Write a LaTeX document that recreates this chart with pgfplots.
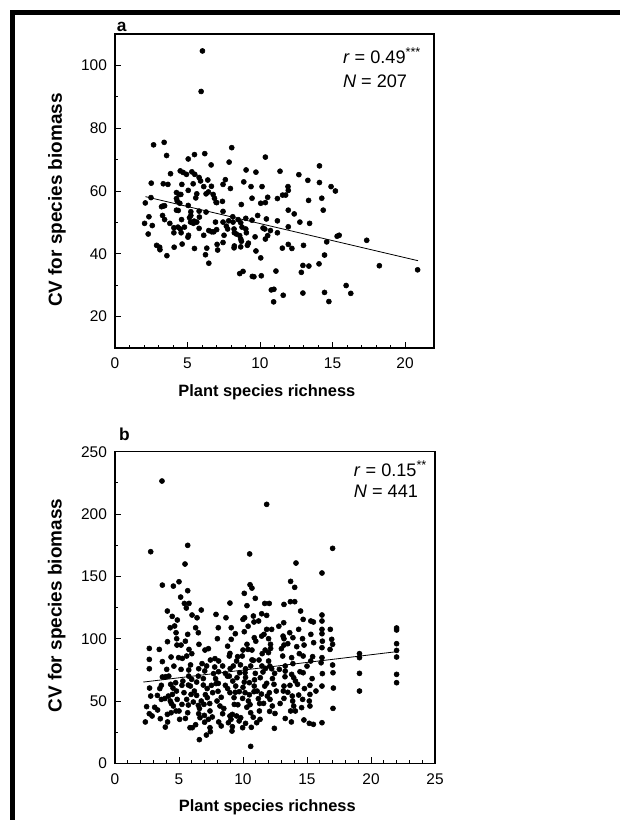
\documentclass[border=0pt]{standalone}
\usepackage{fontspec}
\setmainfont{Liberation Sans}
\usepackage{pgfplots}
\pgfplotsset{compat=1.18}

% panel a: 207 plots
\pgfplotstableread{
x y
6.03 104.6
5.94 91.7
2.66 74.7
3.39 75.5
3.56 71.3
5.48 71.6
6.19 71.9
5.05 70.2
8.05 73.8
10.37 70.8
7.87 69.2
6.63 68.3
14.1 68.0
3.83 65.5
4.50 66.4
4.70 65.9
4.93 65.3
5.30 66.1
5.50 65.3
9.04 66.7
9.72 66.0
11.38 66.3
12.68 65.2
2.50 62.5
3.33 62.3
3.65 62.1
4.61 62.1
5.39 62.3
5.80 64.3
5.90 63.2
6.40 63.5
6.12 61.4
7.61 63.6
7.45 62.1
8.88 62.9
9.38 61.4
10.14 61.4
11.93 61.4
11.95 60.2
13.3 63.4
14.1 62.7
14.9 61.4
15.2 60.0
5.05 60.2
5.64 59.1
6.28 59.1
6.44 59.7
6.65 61.5
6.77 58.9
4.24 59.5
4.43 58.9
4.54 58.9
7.96 60.8
9.45 57.7
11.2 57.6
11.56 58.7
11.77 58.7
10.53 58.0
2.09 56.2
2.48 57.9
4.24 57.6
4.29 56.8
4.47 56.1
5.57 57.8
6.86 57.7
6.97 56.4
7.41 56.7
7.01 56.3
13.35 57.0
14.26 57.7
10.05 56.1
10.37 56.3
8.71 55.7
5.05 55.4
3.30 55.2
3.42 55.3
3.21 55.0
4.24 53.9
4.36 53.8
5.23 53.4
5.80 53.6
6.28 53.3
7.45 53.5
14.36 53.9
11.95 53.9
12.36 52.7
2.34 51.8
3.28 52.2
3.42 50.9
4.59 50.9
5.14 51.5
5.23 52.2
5.82 51.7
8.12 51.8
9.02 51.3
8.49 50.9
9.84 52.2
10.44 51.1
5.21 50.1
5.46 50.4
5.64 50.1
5.41 49.7
2.04 49.7
2.57 49.0
3.78 49.7
6.93 50.1
7.45 50.1
7.84 50.5
8.14 50.1
8.67 49.9
9.45 50.7
11.2 50.5
12.75 50.1
13.42 49.7
4.79 48.5
4.06 48.3
4.34 48.5
4.50 47.9
5.80 48.1
7.01 47.7
7.68 48.8
7.77 47.9
8.21 47.9
8.76 48.5
9.02 47.9
10.21 48.2
10.33 47.9
10.72 47.4
11.95 48.6
2.29 46.3
5.07 45.9
5.03 45.3
4.56 46.7
4.06 46.7
6.12 45.9
6.47 47.4
6.67 47.0
6.81 47.0
8.23 46.7
8.37 46.3
7.52 45.9
9.06 46.7
8.60 45.8
9.66 45.4
10.53 45.8
10.37 44.7
11.2 46.7
15.32 45.6
15.46 45.9
8.67 44.7
8.72 44.0
14.6 43.8
2.87 42.7
3.08 42.1
4.08 42.1
7.04 43.0
4.63 43.1
7.45 43.6
8.21 41.9
8.23 42.5
9.13 42.7
9.20 43.4
8.67 42.2
11.95 43.0
12.2 41.7
13.0 42.7
11.54 41.8
17.36 44.3
3.10 41.3
5.48 41.7
6.33 41.8
7.08 41.2
6.24 39.7
9.72 40.9
3.58 39.4
6.47 37.0
10.05 38.7
14.45 39.6
20.87 34.9
18.23 36.2
12.96 36.3
13.37 36.1
14.07 36.8
8.60 33.7
8.83 34.4
9.47 32.8
9.58 32.7
10.09 33.0
11.1 34.5
12.85 34.1
10.78 28.5
10.96 28.7
11.6 26.8
12.96 27.5
14.45 27.7
14.75 24.8
10.94 24.7
15.94 29.9
16.26 27.4
}\dataA

% panel b: 441 plots
\pgfplotstableread{
x y
3.67 226.5
11.85 207.8
17.0 172.5
2.79 169.8
5.68 174.9
10.52 168
5.47 159.9
14.14 160.7
16.17 152.7
5.0 145.7
4.56 142.2
3.70 143
10.55 143.3
10.70 140.6
13.72 146
14.04 141.2
5.68 138.5
5.13 133.4
10.1 136.4
10.96 132.4
13.7 129.7
14.04 129.7
5.42 128.3
5.78 128.3
8.98 128.6
11.7 128.3
12.05 128.3
13.2 127.5
10.31 126.5
5.57 124.6
6.74 123
4.09 122.2
14.5 122.2
6.02 119
7.89 119.5
16.17 119
4.47 117.9
6.41 116.8
8.67 116.8
10.0 115.5
10.13 116.8
10.81 118.2
11.46 120
11.85 118.7
4.87 115
14.7 115.5
15.3 114.2
15.5 113.4
16.17 114.2
13.18 112.8
10.86 113.4
4.31 108.8
4.66 110.2
6.3 108.8
8.07 108.8
9.08 108.8
11.22 114.2
11.85 107.5
12.24 107.5
13.65 104.8
14.35 107.5
16.17 107.5
16.82 107.5
22.0 108.6
22.0 107
4.77 104.8
5.68 103.5
6.51 104.8
10.1 105.6
10.88 100.8
11.46 102.1
11.64 103.5
13.13 102.1
15.3 103.5
16.17 104
13.2 100
13.9 100.8
14.65 100
4.82 100
4.1 97.6
9.08 99.5
16.93 99.5
3.46 91.4
2.68 92.2
5.78 91.4
6.56 95.5
7.03 90.9
4.84 94.9
5.16 94.9
10.31 95.5
10.39 91.4
12.15 95.5
13.2 94.9
14.2 93.6
14.77 94.9
15.52 96.8
16.17 92.8
17.0 95.5
22.0 96
10.0 90.9
10.7 90.9
11.73 90.9
12.16 92.2
22.0 90.6
16.8 91.4
19.1 88
19.1 84.8
22.0 85.3
11.99 88.8
8.93 86.1
8.98 88.2
5.6 86.1
4.38 85.3
4.97 84.8
5.26 84.2
9.58 85.6
9.94 86.1
3.7 81.6
2.68 83.4
7.45 82.9
7.81 84
8.1 82.1
9.5 82.1
10.81 82.6
11.25 82.9
12.0 82.1
13.1 86.1
13.8 84.8
14.7 86.1
15.44 85.6
16.17 84.8
15.29 82.1
16.1 80.7
17.0 78.9
13.3 78.1
7.16 78.1
7.79 77.3
8.41 78.1
9.24 78.1
10.2 75.9
10.6 78.1
11.48 78.1
11.77 76.2
12.24 75.9
2.68 75.9
4.04 75.4
5.16 75.4
5.76 74.9
6.54 75.9
7.01 74.1
8.09 73.5
8.62 72.2
8.93 70
9.74 72.7
10.16 72.7
10.96 72.2
11.56 73.3
12.47 72.2
12.84 75.4
13.8 71.4
14.45 73.5
14.7 72.7
17.03 72.7
19.1 72.2
22.0 71.4
5.76 70
6.51 70
7.86 67.9
8.78 70
9.53 68.7
11.35 68.7
13.96 68.7
13.28 69.5
3.7 69.3
3.96 69.5
4.74 64.7
2.7 60.4
3.62 62.6
4.35 63.4
4.53 60.4
5.23 62.6
5.73 62.8
5.99 67.4
5.89 62
6.38 65.2
6.9 62.8
7.53 62.6
8.07 64.2
8.62 62.6
9.43 62
10.1 65.2
10.5 64.7
10.88 62
11.85 64.2
12.42 63.4
13.2 62
13.67 62.6
14.26 63.4
15.23 62.6
16.17 62
17.06 60.4
19.1 58
22.0 64.7
2.79 54
3.31 54.5
4.17 54
4.48 55.3
5.39 56.7
5.94 55.3
6.38 54.5
7.06 55.1
7.63 56.7
8.05 57.8
8.98 56.7
9.71 57.5
10.16 56.7
10.86 57.5
11.44 55.6
12.06 56.7
13.15 58
13.85 54
14.35 54.8
15.23 55.3
3.62 51.3
4.32 50
4.86 51.3
5.6 51.3
6.12 49.2
6.74 50
7.21 52.7
7.97 50
9.3 52.7
9.97 52.1
10.42 50
11.2 51.9
12.11 51.3
13.2 52.1
13.88 50
14.66 51.3
15.18 50
2.47 45.5
4.56 46
5.23 47.3
5.73 46.8
6.51 46.5
6.95 47.3
8.2 46
9.32 47.3
10.55 47.1
11.61 48.1
12.29 46
13.96 46
14.58 44.7
15.23 46
17.03 44.1
3.33 42.8
4.38 40.6
4.77 42
5.68 40.6
6.54 39.8
7.42 42
8.41 39.8
8.98 38
9.17 39.3
10.6 40.6
11.28 42
12.08 41.7
13.72 42
14.09 42
2.68 39.8
4.09 39.3
6.98 38.5
7.6 37.2
3.54 35.8
5.05 35.3
6.64 36.6
7.29 35.3
9.06 35.3
9.82 36.6
11.33 35.3
14.76 34.8
2.37 33.2
4.11 33.2
8.1 33.2
8.86 32.6
9.7 34
10.2 32.1
11.07 32.6
13.78 33.2
15.18 32.1
15.5 31.3
16.17 32.6
3.93 29.1
5.86 28.6
6.04 28.6
7.42 28.6
9.17 29.4
9.97 28.6
10.65 28.9
12.45 28.1
7.45 25.4
9.14 25.9
7.14 22.7
6.59 19
10.6 13.6
4.8 58
5.3 66
5.9 79
6.2 58
6.6 44
6.9 68
7.2 60
7.4 48
7.7 72
7.9 64
8.3 53
8.5 44
8.8 60
9.0 76
9.2 66
9.4 57
9.6 47
9.8 79
10.0 61
10.2 69
10.3 45
10.5 55
10.7 83
10.9 67
11.1 58
11.3 48
11.5 88
11.7 62
11.9 54
12.1 78
12.3 68
12.6 58
12.9 48
13.0 92
13.3 74
13.5 57
13.9 80
14.1 66
14.4 88
14.8 60
15.0 78
15.4 68
15.7 58
16.2 72
16.2 98
5.5 98
6.0 88
6.8 80
7.3 92
8.0 100
8.8 94
9.4 104
10.4 110
11.0 98
12.0 100
12.8 110
13.5 96
3.1 45
3.5 60
3.9 52
4.2 70
4.6 78
5.0 42
5.5 36
6.3 31
7.0 33
8.3 30
9.5 38
10.8 37
12.5 40
13.3 36
2.9 38
4.4 48
}\dataB

\pgfplotsset{
  panel/.style={
    scale only axis,
    axis line style={line width=0.9pt},
    tick style={black, line width=0.6pt},
    tick align=inside,
    major tick length=4.5pt,
    minor tick length=2.5pt,
    xtick pos=bottom, ytick pos=left,
    minor x tick num=4,
    minor y tick num=1,
    tick label style={font=\fontsize{11.6}{13}\selectfont},
    /pgf/number format/assume math mode=true,
    yticklabel style={xshift=-2.5pt},
    xticklabel style={yshift=-4pt},
    xlabel style={font=\fontsize{12.3}{14}\selectfont\bfseries},
    ylabel style={font=\fontsize{14.2}{16}\selectfont\bfseries},
    clip=false,
  },
  dots/.style={only marks, mark=*, mark size=1.9pt, black},
  fit/.style={no marks, black, line width=0.6pt},
}
\tikzset{note/.style={anchor=base west, font=\fontsize{13.6}{15}\selectfont}}

\begin{document}
\begin{tikzpicture}
\path[use as bounding box] (0,0) rectangle (465pt,-615pt);
\draw[line width=3.4pt] (9.4pt,-615pt) -- (9.4pt,-9.4pt) -- (465pt,-9.4pt);

% panel a
\begin{axis}[panel,
  at={(86.25pt,-261pt)}, anchor=south west,
  width=239.25pt, height=235.5pt,
  xmin=0, xmax=22, ymin=10, ymax=110,
  xtick={0,5,10,15,20}, ytick={20,40,60,80,100},
  xlabel={Plant species richness},
  ylabel={CV for species biomass},
  xlabel style={at={(axis description cs:0.476,-0.156)}, anchor=base},
  ylabel style={at={(axis description cs:-0.182,0.471)}, anchor=center, rotate=0},
]
\addplot[dots] table[x=x, y=y] {\dataA};
\addplot[fit] coordinates {(2.1,58.2) (20.9,37.8)};
\node[note] at (axis cs:15.4,100.6) {\textit{r} = 0.49\textsuperscript{***}};
\node[note] at (axis cs:15.4,93.1) {\textit{N} = 207};
\node[anchor=base west, font=\fontsize{13}{15}\selectfont\bfseries, inner sep=0pt] at (axis description cs:0.005,1.008) {a};
\end{axis}

% panel b
\begin{axis}[panel,
  at={(86.25pt,-572.5pt)}, anchor=south west,
  width=240pt, height=233.7pt,
  xmin=0, xmax=25, ymin=0, ymax=250,
  xtick={0,5,10,15,20,25}, ytick={0,50,100,150,200,250},
  xlabel={Plant species richness},
  ylabel={CV for species biomass},
  xlabel style={at={(axis description cs:0.476,-0.155)}, anchor=base},
  ylabel style={at={(axis description cs:-0.182,0.506)}, anchor=center, rotate=0},
]
\addplot[dots] table[x=x, y=y] {\dataB};
\addplot[fit] coordinates {(2.21,65.2) (22.0,89.6)};
\node[note] at (axis cs:18.3,230) {\textit{r} = 0.15\textsuperscript{**}};
\node[note] at (axis cs:18.3,213) {\textit{N} = 441};
\node[anchor=base west, font=\fontsize{13}{15}\selectfont\bfseries, inner sep=0pt] at (axis description cs:0.012,1.035) {b};
\end{axis}
\end{tikzpicture}
\end{document}
